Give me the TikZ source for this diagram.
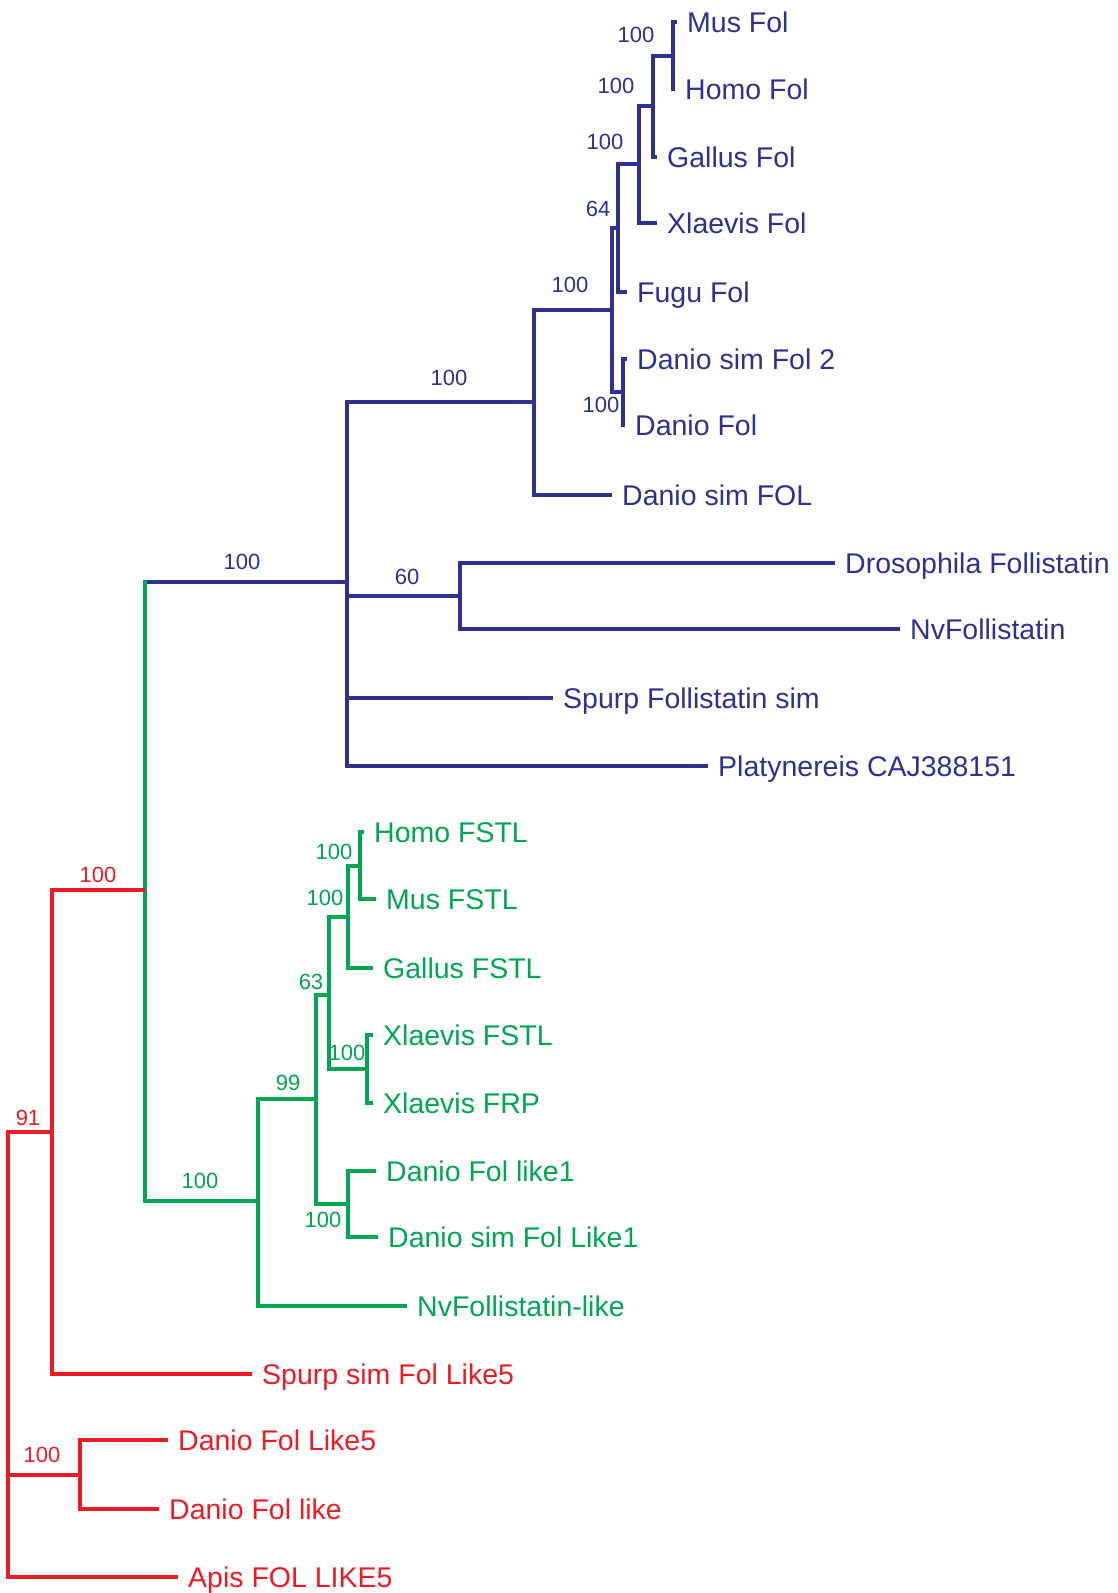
\documentclass[tikz,border=0pt]{standalone}
\usepackage{fontspec}
\setmainfont{Liberation Sans}
\definecolor{folblue}{RGB}{46,49,146}
\definecolor{fstlgreen}{RGB}{0,166,81}
\definecolor{likered}{RGB}{237,28,36}
\tikzset{
	taxon/.style={anchor=west,inner xsep=10pt,inner ysep=0pt,text height=20pt,text depth=0pt,font=\fontsize{28.5}{34}\selectfont},
	boot/.style={inner sep=0pt,font=\fontsize{22}{26}\selectfont},
	branch/.style={line width=4pt}
}
\begin{document}
\begin{tikzpicture}[x=1pt,y=-1pt]
				\useasboundingbox (0,0) rectangle (1117,1593);
				% follistatin clade
				\node[taxon,folblue] (musfol) at (677,22) {Mus Fol};
				\node[taxon,folblue] (homofol) at (675,89) {Homo Fol};
				\node[taxon,folblue] (gallusfol) at (657,157) {Gallus Fol};
				\node[taxon,folblue] (xlaevisfol) at (657,223) {Xlaevis Fol};
				\node[taxon,folblue] (fugufol) at (627,292) {Fugu Fol};
				\node[taxon,folblue] (daniosimfoltwo) at (627,359) {Danio sim Fol 2};
				\node[taxon,folblue] (daniofol) at (625,425) {Danio Fol};
				\node[taxon,folblue] (daniosimfol) at (612,495) {Danio sim FOL};
				\node[taxon,folblue] (drosfol) at (835,563) {Drosophila Follistatin};
				\node[taxon,folblue] (nvfol) at (900,629) {NvFollistatin};
				\node[taxon,folblue] (spurpfol) at (553,698) {Spurp Follistatin sim};
				\node[taxon,folblue] (platyfol) at (708,766) {Platynereis CAJ388151};
				% FSTL clade
				\node[taxon,fstlgreen] (homofstl) at (364,832) {Homo FSTL};
				\node[taxon,fstlgreen] (musfstl) at (376,899) {Mus FSTL};
				\node[taxon,fstlgreen] (gallusfstl) at (373,968) {Gallus FSTL};
				\node[taxon,fstlgreen] (xlaevisfstl) at (373,1035) {Xlaevis FSTL};
				\node[taxon,fstlgreen] (xlaevisfrp) at (373,1103) {Xlaevis FRP};
				\node[taxon,fstlgreen] (daniofolone) at (376,1171) {Danio Fol like1};
				\node[taxon,fstlgreen] (daniosimfolone) at (378,1237) {Danio sim Fol Like1};
				\node[taxon,fstlgreen] (nvfollike) at (407,1306) {NvFollistatin-like};
				% like5 clade
				\node[taxon,likered] (spurpfive) at (252,1374) {Spurp sim Fol Like5};
				\node[taxon,likered] (daniofive) at (168,1440) {Danio Fol Like5};
				\node[taxon,likered] (daniolike) at (159,1509) {Danio Fol like};
				\node[taxon,likered] (apisfive) at (178,1577) {Apis FOL LIKE5};
				% inner nodes
				\coordinate (MH) at (673,56);
				\coordinate (MHG) at (653,106);
				\coordinate (MHGX) at (639,164);
				\coordinate (MHGXF) at (618,228);
				\coordinate (DD) at (623,392);
				\coordinate (FOL) at (612,310);
				\coordinate (FOLALL) at (534,402);
				\coordinate (DN) at (460,596);
				\coordinate (BLUE) at (347,582);
				\coordinate (HM) at (360,866);
				\coordinate (HMG) at (348,917);
				\coordinate (XX) at (367,1069);
				\coordinate (TETRA) at (329,995);
				\coordinate (DDL) at (348,1204);
				\coordinate (VERT) at (316,1099);
				\coordinate (GREEN) at (258,1201);
				\coordinate (BG) at (145,890);
				\coordinate (BGS) at (52,1132);
				\coordinate (DL) at (80,1475);
				\coordinate (ROOT) at (8,1350);
				\begin{scope}[branch,folblue]
				\foreach \A/\B in {MH/musfol.west,MH/homofol.west,MHG/MH,MHG/gallusfol.west,MHGX/MHG,MHGX/xlaevisfol.west,MHGXF/MHGX,MHGXF/fugufol.west,DD/daniosimfoltwo.west,DD/daniofol.west,FOL/MHGXF,FOL/DD,FOLALL/FOL,FOLALL/daniosimfol.west,DN/drosfol.west,DN/nvfol.west,BLUE/FOLALL,BLUE/DN,BLUE/spurpfol.west,BLUE/platyfol.west} \draw (\A) |- (\B);
				\draw (BG |- BLUE)--(BLUE);
				\end{scope}
				\begin{scope}[branch,fstlgreen]
				\foreach \A/\B in {HM/homofstl.west,HM/musfstl.west,HMG/HM,HMG/gallusfstl.west,XX/xlaevisfstl.west,XX/xlaevisfrp.west,TETRA/HMG,TETRA/XX,DDL/daniofolone.west,DDL/daniosimfolone.west,VERT/TETRA,VERT/DDL,GREEN/VERT,GREEN/nvfollike.west,BG/GREEN} \draw (\A) |- (\B);
				\draw[line cap=rect] (BG)--(BG |- BLUE);
				\end{scope}
				\begin{scope}[branch,likered]
				\foreach \A/\B in {BGS/BG,BGS/spurpfive.west,DL/daniofive.west,DL/daniolike.west,ROOT/BGS,ROOT/DL,ROOT/apisfive.west} \draw (\A) |- (\B);
				\end{scope}
				% bootstrap values
				\foreach \N/\X/\Y/\T in {bMH/636/35/100,bMHG/616/86/100,bMHGX/605/142/100,bMHGXF/598/209/64,bFOL/570/285/100,bDD/601/405/100,bFOLALL/449/378/100,bDN/407/577/60,bBLUE/242/562/100}
					\node[boot,folblue] (\N) at (\X,\Y) {\T};
				\foreach \N/\X/\Y/\T in {bHM/334/852/100,bHMG/325/898/100,bTETRA/311/982/63,bXX/347/1053/100,bDDL/323/1220/100,bVERT/288/1083/99,bGREEN/200/1181/100}
					\node[boot,fstlgreen] (\N) at (\X,\Y) {\T};
				\foreach \N/\X/\Y/\T in {bBG/98/875/100,bBGS/28/1118/91,bDL/42/1455/100}
					\node[boot,likered] (\N) at (\X,\Y) {\T};
			\end{tikzpicture}
\end{document}
